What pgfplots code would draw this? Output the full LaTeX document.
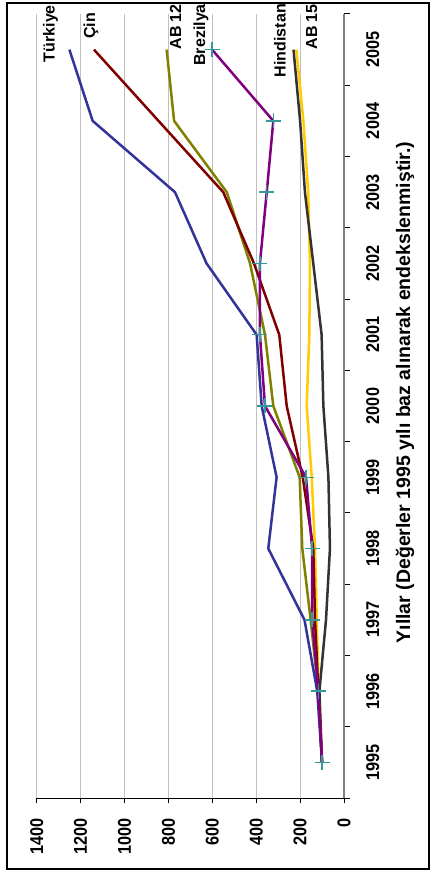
\documentclass[border=0pt]{standalone}
\usepackage{fontspec}
\setmainfont{Liberation Sans}
\newfontfamily\tickfont{Liberation Sans}[FakeStretch=0.88]
\usepackage{pgfplots}
\pgfplotsset{compat=1.18}
\usepackage{pgfplotstable}

\definecolor{trcol}{RGB}{51,51,153}
\definecolor{cncol}{RGB}{128,0,0}
\definecolor{ab12col}{RGB}{128,128,0}
\definecolor{brcol}{RGB}{128,0,128}
\definecolor{hicol}{RGB}{51,51,51}
\definecolor{ab15col}{RGB}{255,204,0}
\definecolor{mkcol}{RGB}{51,153,153}
\definecolor{gridcol}{RGB}{192,192,192}

\pgfplotstableread{
year tr cn ab12 br hi ab15
1995 100 100 100 100 100 100
1996 122 117 117 117 112 115
1997 180 132 152 145 82 124
1998 345 140 190 145 64 132
1999 307 188 202 173 71 147
2000 375 261 322 360 94 170
2001 398 295 360 383 102 158
2002 626 410 428 383 140 155
2003 770 550 534 352 178 163
2004 1145 845 774 322 200 185
2005 1251 1139 808 601 230 217
}\datatable

\begin{document}
\begin{tikzpicture}
\fill[white] (0bp,0bp) rectangle (431bp,872bp);
\begin{axis}[
  at={(36.7bp,74bp)}, anchor=south west,
  scale only axis, width=307.3bp, height=784bp,
  x dir=reverse,
  xmin=0, xmax=1400, ymin=1994.5, ymax=2005.5,
  axis x line*=bottom, axis y line*=right,
  axis line style={-},
  x axis line style={black, line width=1bp},
  y axis line style={black!50, line width=1.6bp},
  xtick={0,200,...,1400},
  ytick={1994.5,1995.5,...,2005.5},
  yticklabels={},
  extra y ticks={1995,1996,...,2005},
  extra y tick labels={1995,1996,1997,1998,1999,2000,2001,2002,2003,2004,2005},
  extra y tick style={major tick length=0pt},
  tick align=outside,
  major tick length=5.5bp,
  tick style={black, line width=1bp},
  xmajorgrids,
  major grid style={gridcol, line width=1.1bp},
  /pgf/number format/assume math mode=true,
  /pgf/number format/1000 sep={},
  xticklabel style={font=\tickfont\bfseries\fontsize{18.5bp}{18.5bp}\selectfont, rotate=90, anchor=east, inner sep=0pt},
  yticklabel style={font=\tickfont\bfseries\fontsize{18.5bp}{18.5bp}\selectfont, rotate=90, anchor=north, inner sep=0pt},
  xticklabel shift=15bp,
  yticklabel shift=22bp,
]
\addplot[color=ab15col, line width=2.5bp, line join=round] table[x=ab15, y=year] {\datatable};
\addplot[color=hicol, line width=2.5bp, line join=round] table[x=hi, y=year] {\datatable};
\addplot[color=ab12col, line width=2.5bp, line join=round] table[x=ab12, y=year] {\datatable};
\addplot[color=cncol, line width=2.5bp, line join=round] table[x=cn, y=year] {\datatable};
\addplot[color=trcol, line width=2.5bp, line join=round] table[x=tr, y=year] {\datatable};
\addplot[color=brcol, line width=2.5bp, line join=round, mark=+, mark size=7.5bp,
  mark options={draw=mkcol, line width=1.5bp}] table[x=br, y=year] {\datatable};
\end{axis}
\begin{scope}[every node/.style={rotate=90, anchor=base east, inner sep=0pt, font=\bfseries\fontsize{16bp}{16bp}\selectfont}]
\node at (54.5bp,867bp) {Türkiye};
\node at (95bp,859bp) {Çin};
\node at (181bp,868bp) {AB 12};
\node at (205bp,868bp) {Brezilya};
\node at (285.5bp,868bp) {Hindistan};
\node at (317bp,868bp) {AB 15};
\end{scope}
\node[rotate=90, inner sep=0pt, font=\bfseries\fontsize{19.5bp}{19.5bp}\selectfont] at (405bp,479.5bp) {Yıllar (Değerler 1995 yılı baz alınarak endekslenmiştir.)};
\draw[black, line width=1.2bp] (7bp,3bp) rectangle (429bp,869bp);
\pgfresetboundingbox
\path (0bp,0bp) rectangle (431bp,872bp);
\end{tikzpicture}
\end{document}
